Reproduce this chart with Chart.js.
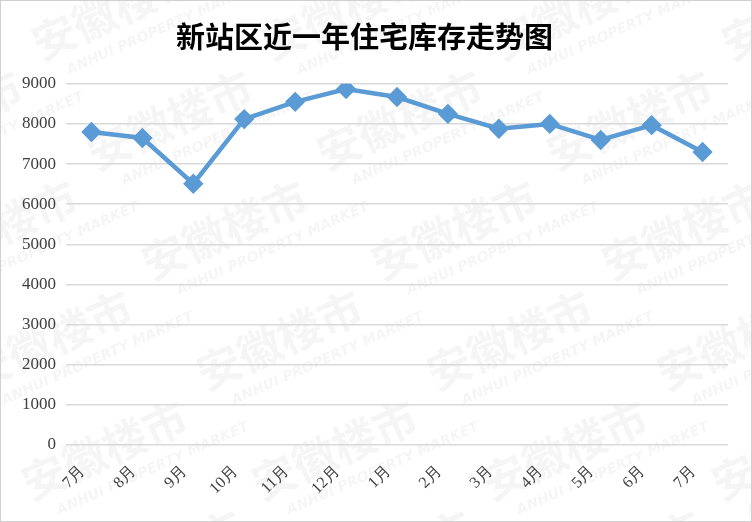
<!DOCTYPE html>
<html>
<head>
<meta charset="utf-8">
<script src="https://cdn.jsdelivr.net/npm/chart.js@4.4.1/dist/chart.umd.min.js"></script>
<style>
    html, body { margin: 0; padding: 0; background: #fff; }
    #wrap { width: 750px; height: 520px; border: 1px solid #d0d0d0; position: relative; }
</style>
</head>
<body>
<div id="wrap"><canvas id="stockChart" width="750" height="520"></canvas></div>
<script>
// ================================================================
// DATA
// ================================================================
const months   = ['7月', '8月', '9月', '10月', '11月', '12月', '1月', '2月', '3月', '4月', '5月', '6月', '7月'];
const stock    = [7800, 7650, 6510, 8120, 8550, 8870, 8670, 8250, 7880, 8000, 7600, 7970, 7300];
const yTicks   = [0, 1000, 2000, 3000, 4000, 5000, 6000, 7000, 8000, 9000];
const title    = '新站区近一年住宅库存走势图';
const wmBig    = '安徽楼市';
const wmSmall  = 'ANHUI PROPERTY MARKET';

// faint watermark behind everything
const watermark = {
    id: 'watermark',
    beforeDraw(chart) {
        const ctx = chart.ctx;
        ctx.save();
        ctx.fillStyle = '#fff';
        ctx.fillRect(0, 0, chart.width, chart.height);
        for (let row = -2; row < 6; row++) {
            for (let col = -1; col < 5; col++) {
                const x = col * 230 + row * 55 + 40;
                const y = row * 110 + 60;
                ctx.save();
                ctx.translate(x, y);
                ctx.rotate(-0.42);
                ctx.fillStyle = 'rgba(0,0,0,0.04)';
                ctx.font = 'bold 44px "Noto Sans CJK SC"';
                ctx.fillText(wmBig, 0, 0);
                ctx.font = 'italic bold 14px "DejaVu Sans"';
                ctx.fillText(wmSmall, 20, 24);
                ctx.restore();
            }
        }
        ctx.restore();
    }
};

const ctx = document.getElementById('stockChart').getContext('2d');
new Chart(ctx, {
    type: 'line',
    data: {
        labels: months,
        datasets: [{
            data: stock,
            borderColor: '#5b9bd5',
            backgroundColor: '#5b9bd5',
            borderWidth: 4.5,
            pointStyle: 'rectRot',
            pointRadius: 7,
            pointHoverRadius: 7,
            tension: 0
        }]
    },
    options: {
        responsive: false,
        animation: false,
        layout: { padding: { left: 0, right: 23, top: 0, bottom: 0 } },
        plugins: {
            legend: { display: false },
            tooltip: { enabled: false },
            title: {
                display: true,
                text: title,
                color: '#000',
                font: { family: '"Noto Sans CJK SC"', size: 29, weight: 'bold' },
                padding: { top: 19, bottom: 29 }
            }
        },
        scales: {
            x: {
                offset: true,
                grid: { display: false },
                border: { display: false },
                ticks: {
                    color: '#404040',
                    font: { family: '"Liberation Serif"', size: 16 },
                    maxRotation: 45,
                    minRotation: 45,
                    padding: 9,
                    labelOffset: -9
                },
                afterFit(axis) { axis.height = 76; }
            },
            y: {
                min: 0,
                max: 9000,
                afterBuildTicks(axis) { axis.ticks = yTicks.map(v => ({ value: v })); },
                grid: { color: '#d9d9d9', lineWidth: 1.5, drawTicks: false },
                border: { display: false },
                ticks: {
                    color: '#404040',
                    font: { family: '"Liberation Serif"', size: 17 },
                    padding: 10,
                    callback: v => String(v)
                },
                afterFit(axis) { axis.width = 65; }
            }
        }
    },
    plugins: [watermark]
});
</script>
</body>
</html>
